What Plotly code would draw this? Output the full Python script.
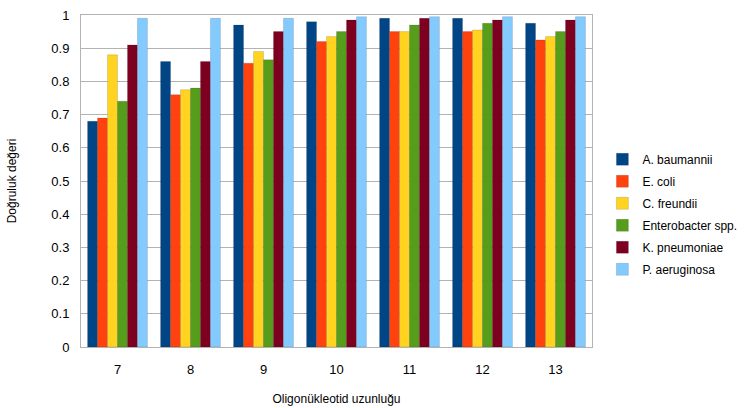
import plotly.graph_objects as go

# Oligonucleotide lengths (x categories)
lengths = ["7", "8", "9", "10", "11", "12", "13"]

# Accuracy per species
a_baumannii = [0.68, 0.86, 0.97, 0.98, 0.99, 0.99, 0.975]
e_coli = [0.69, 0.76, 0.855, 0.92, 0.95, 0.95, 0.925]
c_freundii = [0.88, 0.775, 0.89, 0.935, 0.95, 0.955, 0.935]
enterobacter = [0.74, 0.78, 0.865, 0.95, 0.97, 0.975, 0.95]
k_pneumoniae = [0.91, 0.86, 0.95, 0.985, 0.99, 0.985, 0.985]
p_aeruginosa = [0.99, 0.99, 0.99, 0.995, 0.995, 0.995, 0.995]

series = [
    ("A. baumannii", a_baumannii, "#004586"),
    ("E. coli", e_coli, "#ff420e"),
    ("C. freundii", c_freundii, "#ffd320"),
    ("Enterobacter spp.", enterobacter, "#579d1c"),
    ("K. pneumoniae", k_pneumoniae, "#7e0021"),
    ("P. aeruginosa", p_aeruginosa, "#83caff"),
]

fig = go.Figure()
for name, vals, color in series:
    fig.add_trace(go.Bar(
        x=lengths, y=vals, name=name, legendgroup=name,
        marker=dict(color=color, line=dict(color="rgba(0,0,0,0.25)", width=0.5)),
    ))

fig.update_layout(
    width=753, height=408,
    margin=dict(l=81, r=161, t=15, b=61, autoexpand=False),
    paper_bgcolor="white", plot_bgcolor="white",
    font=dict(family="Liberation Sans, Arial, sans-serif", size=12, color="#000000"),
    barmode="group", bargap=0.18, bargroupgap=0.0,
    showlegend=True,
    legend=dict(xref="container", yref="container", x=0.80, y=0.645,
                xanchor="left", yanchor="top",
                font=dict(size=12), tracegroupgap=3, itemwidth=30),
    xaxis=dict(
        title=dict(text="Oligonükleotid uzunluğu", font=dict(size=12), standoff=19),
        showline=True, linecolor="#b3b3b3", ticks="", tickfont=dict(size=13),
        ticklabelstandoff=10, mirror=True,
    ),
    yaxis=dict(
        title=dict(text="Doğruluk değeri", font=dict(size=12), standoff=32),
        range=[0, 1], dtick=0.1, showgrid=True, gridcolor="#b3b3b3",
        showline=True, linecolor="#b3b3b3", mirror=True, ticks="",
        tickfont=dict(size=13), zeroline=False, ticklabelstandoff=8,
    ),
)

fig.write_html("out.html")
